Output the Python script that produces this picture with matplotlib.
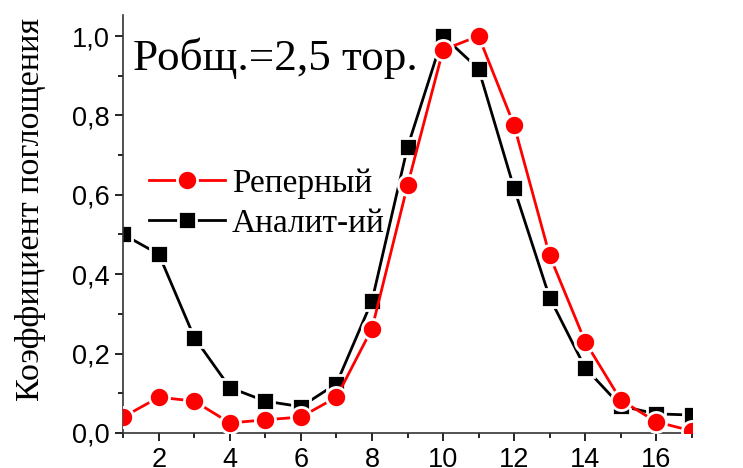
import matplotlib

matplotlib.use("Agg")
import matplotlib.pyplot as plt
from matplotlib.ticker import FixedLocator, MultipleLocator, FuncFormatter

x_points = list(range(1, 18))
reper = [0.04, 0.09, 0.08, 0.025, 0.033, 0.04, 0.09, 0.263, 0.624, 0.965,
         1.0, 0.775, 0.447, 0.23, 0.083, 0.028, 0.005]
analit = [0.50, 0.45, 0.24, 0.114, 0.08, 0.066, 0.124, 0.333, 0.72, 1.0,
          0.917, 0.616, 0.341, 0.164, 0.068, 0.048, 0.045]
series_labels = ["Реперный", "Аналит-ий"]
x_ticks = [2, 4, 6, 8, 10, 12, 14, 16]
y_ticks = [0.0, 0.2, 0.4, 0.6, 0.8, 1.0]
annotation = "Робщ.=2,5 тор."
y_label = "Коэффициент поглощения"

serif = ["Liberation Serif", "DejaVu Serif"]
sans = ["Liberation Sans", "DejaVu Sans"]

fig = plt.figure(figsize=(7.43, 4.68), dpi=100)
ax = fig.add_axes([0.166, 0.075, 0.765, 0.893])

ax.plot(x_points, analit, color="black", lw=2.0, marker="s", ms=13,
        mfc="black", mec="white", mew=2.0, label=series_labels[1], zorder=2)
ax.plot(x_points, reper, color="#ff0000", lw=2.0, marker="o", ms=14.5,
        mfc="#ff0000", mec="white", mew=2.0, label=series_labels[0], zorder=3)

ax.set_xlim(1, 17)
ax.set_ylim(0, 1.053)

ax.xaxis.set_major_locator(FixedLocator(x_ticks))
ax.xaxis.set_minor_locator(MultipleLocator(1))
ax.yaxis.set_major_locator(FixedLocator(y_ticks))
ax.yaxis.set_minor_locator(MultipleLocator(0.1))
ax.yaxis.set_major_formatter(FuncFormatter(lambda v, p: f"{v:.1f}".replace(".", ",")))

ax.tick_params(which="major", direction="out", length=6, width=1.2, pad=4,
               labelsize=19.5)
ax.tick_params(which="minor", direction="out", length=3.5, width=1.2)
for lab in ax.get_xticklabels() + ax.get_yticklabels():
    lab.set_family(sans)

for side in ("top", "right"):
    ax.spines[side].set_visible(False)
for side in ("left", "bottom"):
    ax.spines[side].set_linewidth(1.2)
    ax.spines[side].set_color("#333333")

ax.set_ylabel(y_label, fontsize=24.5, family=serif)
ax.yaxis.set_label_coords(-0.136, 0.535)

ax.text(0.017, 0.945, annotation, transform=ax.transAxes, fontsize=32.5,
        family=serif, va="top", ha="left")

handles, labels = ax.get_legend_handles_labels()
leg = ax.legend(handles[::-1], labels[::-1], loc="upper left",
                bbox_to_anchor=(-0.008, 0.705), frameon=False, handlelength=2.3,
                handletextpad=0.2, labelspacing=0.28,
                prop={"family": serif, "size": 24})

fig.savefig("out.png", dpi=100)
